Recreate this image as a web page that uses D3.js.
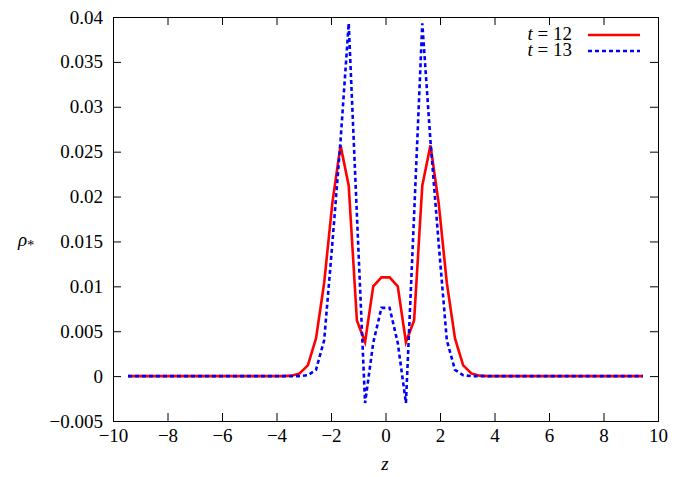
<!DOCTYPE html><html><head><meta charset="utf-8"><script src="https://cdn.jsdelivr.net/npm/d3@7"></script>
<style>body{margin:0;background:#fff}text{font-family:"Liberation Serif",serif;font-size:19px}</style></head><body><svg id="c" width="690" height="477"></svg><script>
const zHalf=[0.15,0.45,0.75,1.05,1.35,1.65,1.95,2.25,2.55,2.85,3.15,3.45,3.75];
const redHalf=[0.0110,0.0100,0.0038,0.0062,0.0212,0.0257,0.0193,0.0104,0.0042,0.0012,0.0003,0.00005,0];
const blueHalf=[0.0076,0.0037,-0.0030,0.0180,0.0393,0.0262,0.0148,0.0040,0.0007,0.0001,0,0,0];
const xTicks=[-10,-8,-6,-4,-2,0,2,4,6,8,10];
const yTicks=[-0.005,0,0.005,0.01,0.015,0.02,0.025,0.03,0.035,0.04];
const labels=["t = 12","t = 13"];
function full(vals){const zs=[];for(let z=-9.45;z<=9.46;z+=0.3)zs.push(+z.toFixed(2));
 return zs.map(z=>{const a=Math.abs(z);const i=zHalf.findIndex(v=>Math.abs(v-a)<1e-6);return [z,i<0?0:vals[i]];});}
const svg=d3.select("#c");
const L=113,R=658,T=17,B=421;
const x=d3.scaleLinear().domain([-10,10]).range([L,R]);
const y=d3.scaleLinear().domain([-0.005,0.04]).range([B,T]);
const fmt=d=>d===0?"0":(d<0?"\u22120.005":String(+d.toFixed(3)));
const g=svg.append("g");
g.append("g").attr("transform",`translate(0,${B})`).call(d3.axisBottom(x).tickValues(xTicks).tickSize(-8).tickPadding(8).tickFormat(d=>d<0?"\u2212"+(-d):d));
g.append("g").attr("transform",`translate(0,${T})`).call(d3.axisTop(x).tickValues(xTicks).tickSize(-8).tickFormat(""));
g.append("g").attr("transform",`translate(${L},0)`).call(d3.axisLeft(y).tickValues(yTicks).tickSize(-8).tickPadding(10).tickFormat(fmt));
g.append("g").attr("transform",`translate(${R},0)`).call(d3.axisRight(y).tickValues(yTicks).tickSize(-8).tickFormat(""));
g.selectAll(".domain").attr("stroke","#000");
g.selectAll("text").attr("font-family","Liberation Serif").attr("font-size",19).attr("fill","#000");
const line=d3.line().x(d=>x(d[0])).y(d=>y(d[1]));
svg.append("path").datum(full(redHalf)).attr("d",line).attr("fill","none").attr("stroke","#f00").attr("stroke-width",2.6);
svg.append("path").datum(full(blueHalf)).attr("d",line).attr("fill","none").attr("stroke","#00f").attr("stroke-width",2.6).attr("stroke-dasharray","4,3");
labels.forEach((t,i)=>{const yy=35+i*16;
 const tx=svg.append("text").attr("x",572).attr("y",yy+5).attr("text-anchor","end").attr("font-size",17);
 tx.append("tspan").attr("font-style","italic").text("t");tx.append("tspan").text(t.slice(1));
 svg.append("line").attr("x1",588).attr("x2",640).attr("y1",yy).attr("y2",yy).attr("stroke",i?"#00f":"#f00").attr("stroke-width",2.6).attr("stroke-dasharray",i?"4,3":null);});
svg.append("text").attr("x",385).attr("y",470).attr("text-anchor","middle").attr("font-style","italic").text("z");
const yl=svg.append("text").attr("x",18).attr("y",246);
yl.append("tspan").attr("font-style","italic").text("ρ");yl.append("tspan").attr("font-size",14).attr("dy",4).text("*");
</script></body></html>
